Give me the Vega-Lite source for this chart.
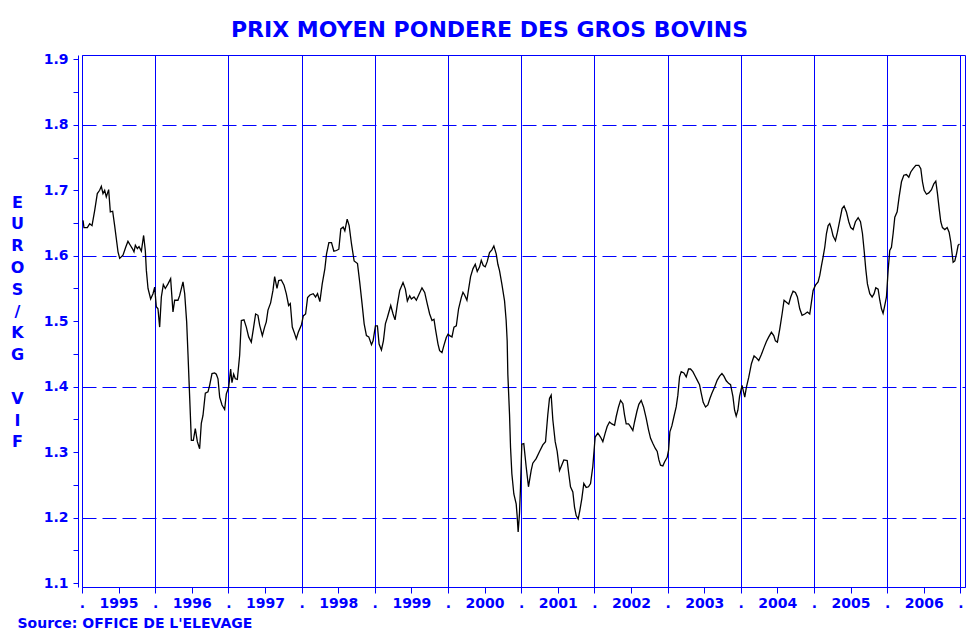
{
  "$schema": "https://vega.github.io/schema/vega-lite/v6.json",
  "width": 883,
  "height": 532,
  "autosize": {"type": "none"},
  "padding": {"left": 82, "top": 55, "right": 3, "bottom": 44},
  "background": "white",
  "config": {"view": {"stroke": "#0000FF", "strokeWidth": 1}},
  "title": {"text": "PRIX MOYEN PONDERE DES GROS BOVINS", "font": "DejaVu Sans", "fontSize": 22, "fontWeight": "bold", "color": "#0000FF", "anchor": "middle", "offset": 10, "dx": -34},
  "data": {"values": [
    {"t":1995.014,"v":1.654},{"t":1995.027,"v":1.643},{"t":1995.073,"v":1.643},{"t":1995.105,"v":1.649},{"t":1995.137,"v":1.646},{"t":1995.173,"v":1.669},{"t":1995.209,"v":1.695},{"t":1995.241,"v":1.700},{"t":1995.264,"v":1.706},{"t":1995.287,"v":1.695},{"t":1995.310,"v":1.700},{"t":1995.332,"v":1.690},{"t":1995.364,"v":1.701},{"t":1995.387,"v":1.667},{"t":1995.419,"v":1.668},{"t":1995.446,"v":1.646},{"t":1995.469,"v":1.626},{"t":1995.492,"v":1.606},{"t":1995.515,"v":1.596},{"t":1995.560,"v":1.601},{"t":1995.597,"v":1.613},{"t":1995.628,"v":1.622},{"t":1995.660,"v":1.616},{"t":1995.688,"v":1.611},{"t":1995.710,"v":1.606},{"t":1995.729,"v":1.616},{"t":1995.756,"v":1.611},{"t":1995.779,"v":1.614},{"t":1995.811,"v":1.607},{"t":1995.842,"v":1.631},{"t":1995.865,"v":1.608},{"t":1995.879,"v":1.578},{"t":1995.902,"v":1.550},{"t":1995.938,"v":1.534},{"t":1995.970,"v":1.542},{"t":1995.993,"v":1.552},{"t":1996.015,"v":1.522},{"t":1996.038,"v":1.519},{"t":1996.061,"v":1.491},{"t":1996.084,"v":1.537},{"t":1996.111,"v":1.556},{"t":1996.138,"v":1.550},{"t":1996.175,"v":1.557},{"t":1996.211,"v":1.565},{"t":1996.243,"v":1.514},{"t":1996.266,"v":1.532},{"t":1996.311,"v":1.532},{"t":1996.334,"v":1.539},{"t":1996.380,"v":1.560},{"t":1996.403,"v":1.542},{"t":1996.430,"v":1.499},{"t":1996.448,"v":1.450},{"t":1996.471,"v":1.384},{"t":1996.494,"v":1.318},{"t":1996.521,"v":1.318},{"t":1996.548,"v":1.336},{"t":1996.576,"v":1.316},{"t":1996.607,"v":1.305},{"t":1996.630,"v":1.344},{"t":1996.653,"v":1.356},{"t":1996.685,"v":1.390},{"t":1996.721,"v":1.392},{"t":1996.744,"v":1.402},{"t":1996.776,"v":1.420},{"t":1996.812,"v":1.421},{"t":1996.835,"v":1.419},{"t":1996.858,"v":1.412},{"t":1996.881,"v":1.384},{"t":1996.913,"v":1.372},{"t":1996.949,"v":1.365},{"t":1996.972,"v":1.389},{"t":1997.004,"v":1.399},{"t":1997.031,"v":1.427},{"t":1997.049,"v":1.406},{"t":1997.072,"v":1.419},{"t":1997.095,"v":1.412},{"t":1997.122,"v":1.411},{"t":1997.154,"v":1.448},{"t":1997.177,"v":1.501},{"t":1997.213,"v":1.502},{"t":1997.245,"v":1.491},{"t":1997.277,"v":1.476},{"t":1997.313,"v":1.468},{"t":1997.345,"v":1.491},{"t":1997.372,"v":1.511},{"t":1997.404,"v":1.509},{"t":1997.427,"v":1.494},{"t":1997.464,"v":1.478},{"t":1997.495,"v":1.491},{"t":1997.518,"v":1.499},{"t":1997.541,"v":1.517},{"t":1997.577,"v":1.528},{"t":1997.609,"v":1.547},{"t":1997.632,"v":1.568},{"t":1997.664,"v":1.550},{"t":1997.687,"v":1.562},{"t":1997.723,"v":1.563},{"t":1997.760,"v":1.555},{"t":1997.791,"v":1.542},{"t":1997.823,"v":1.524},{"t":1997.846,"v":1.527},{"t":1997.873,"v":1.491},{"t":1997.905,"v":1.481},{"t":1997.928,"v":1.473},{"t":1997.955,"v":1.483},
    {"t":1998.000,"v":1.495},{"t":1998.023,"v":1.508},{"t":1998.055,"v":1.511},{"t":1998.082,"v":1.536},{"t":1998.114,"v":1.540},{"t":1998.159,"v":1.542},{"t":1998.191,"v":1.537},{"t":1998.218,"v":1.542},{"t":1998.250,"v":1.530},{"t":1998.282,"v":1.557},{"t":1998.318,"v":1.580},{"t":1998.341,"v":1.603},{"t":1998.373,"v":1.620},{"t":1998.409,"v":1.620},{"t":1998.441,"v":1.607},{"t":1998.477,"v":1.608},{"t":1998.509,"v":1.610},{"t":1998.536,"v":1.641},{"t":1998.568,"v":1.644},{"t":1998.591,"v":1.638},{"t":1998.623,"v":1.656},{"t":1998.650,"v":1.646},{"t":1998.682,"v":1.618},{"t":1998.718,"v":1.592},{"t":1998.764,"v":1.588},{"t":1998.795,"v":1.559},{"t":1998.827,"v":1.526},{"t":1998.855,"v":1.496},{"t":1998.886,"v":1.478},{"t":1998.918,"v":1.476},{"t":1998.955,"v":1.464},{"t":1998.977,"v":1.470},{"t":1999.009,"v":1.493},{"t":1999.036,"v":1.493},{"t":1999.059,"v":1.465},{"t":1999.091,"v":1.456},{"t":1999.118,"v":1.470},{"t":1999.145,"v":1.496},{"t":1999.173,"v":1.506},{"t":1999.218,"v":1.524},{"t":1999.250,"v":1.511},{"t":1999.277,"v":1.502},{"t":1999.309,"v":1.526},{"t":1999.341,"v":1.547},{"t":1999.386,"v":1.559},{"t":1999.418,"v":1.549},{"t":1999.445,"v":1.531},{"t":1999.477,"v":1.539},{"t":1999.500,"v":1.534},{"t":1999.536,"v":1.537},{"t":1999.568,"v":1.532},{"t":1999.600,"v":1.540},{"t":1999.645,"v":1.551},{"t":1999.682,"v":1.544},{"t":1999.718,"v":1.526},{"t":1999.750,"v":1.511},{"t":1999.782,"v":1.501},{"t":1999.809,"v":1.503},{"t":1999.832,"v":1.486},{"t":1999.864,"v":1.465},{"t":1999.886,"v":1.455},{"t":1999.918,"v":1.452},{"t":1999.945,"v":1.463},{"t":1999.977,"v":1.475},
    {"t":2000.000,"v":1.480},{"t":2000.023,"v":1.478},{"t":2000.055,"v":1.476},{"t":2000.082,"v":1.491},{"t":2000.114,"v":1.493},{"t":2000.145,"v":1.519},{"t":2000.182,"v":1.536},{"t":2000.205,"v":1.544},{"t":2000.227,"v":1.540},{"t":2000.259,"v":1.532},{"t":2000.282,"v":1.549},{"t":2000.309,"v":1.568},{"t":2000.341,"v":1.580},{"t":2000.373,"v":1.587},{"t":2000.400,"v":1.576},{"t":2000.432,"v":1.583},{"t":2000.455,"v":1.593},{"t":2000.482,"v":1.585},{"t":2000.509,"v":1.583},{"t":2000.536,"v":1.591},{"t":2000.568,"v":1.605},{"t":2000.600,"v":1.609},{"t":2000.627,"v":1.615},{"t":2000.659,"v":1.603},{"t":2000.682,"v":1.587},{"t":2000.705,"v":1.577},{"t":2000.736,"v":1.557},{"t":2000.773,"v":1.531},{"t":2000.795,"v":1.501},{"t":2000.809,"v":1.470},{"t":2000.818,"v":1.419},{"t":2000.841,"v":1.358},{"t":2000.855,"v":1.307},{"t":2000.873,"v":1.267},{"t":2000.900,"v":1.236},{"t":2000.932,"v":1.221},{"t":2000.945,"v":1.203},{"t":2000.959,"v":1.178},{"t":2000.977,"v":1.206},{"t":2000.991,"v":1.246},{"t":2001.009,"v":1.312},
    {"t":2001.036,"v":1.313},{"t":2001.068,"v":1.278},{"t":2001.100,"v":1.247},{"t":2001.137,"v":1.272},{"t":2001.159,"v":1.283},{"t":2001.205,"v":1.290},{"t":2001.251,"v":1.301},{"t":2001.296,"v":1.311},{"t":2001.333,"v":1.316},{"t":2001.364,"v":1.357},{"t":2001.387,"v":1.382},{"t":2001.410,"v":1.387},{"t":2001.433,"v":1.349},{"t":2001.465,"v":1.316},{"t":2001.492,"v":1.301},{"t":2001.524,"v":1.272},{"t":2001.547,"v":1.278},{"t":2001.583,"v":1.288},{"t":2001.629,"v":1.287},{"t":2001.647,"v":1.270},{"t":2001.674,"v":1.247},{"t":2001.706,"v":1.239},{"t":2001.729,"v":1.216},{"t":2001.752,"v":1.203},{"t":2001.779,"v":1.198},{"t":2001.802,"v":1.211},{"t":2001.829,"v":1.229},{"t":2001.856,"v":1.252},{"t":2001.888,"v":1.246},{"t":2001.920,"v":1.247},{"t":2001.948,"v":1.252},{"t":2001.979,"v":1.278},
    {"t":2002.011,"v":1.323},{"t":2002.048,"v":1.329},{"t":2002.084,"v":1.323},{"t":2002.116,"v":1.316},{"t":2002.148,"v":1.329},{"t":2002.175,"v":1.339},{"t":2002.207,"v":1.346},{"t":2002.239,"v":1.343},{"t":2002.276,"v":1.341},{"t":2002.298,"v":1.354},{"t":2002.330,"v":1.369},{"t":2002.358,"v":1.379},{"t":2002.390,"v":1.374},{"t":2002.412,"v":1.357},{"t":2002.435,"v":1.343},{"t":2002.467,"v":1.343},{"t":2002.494,"v":1.339},{"t":2002.526,"v":1.333},{"t":2002.549,"v":1.346},{"t":2002.581,"v":1.362},{"t":2002.608,"v":1.373},{"t":2002.640,"v":1.379},{"t":2002.672,"v":1.369},{"t":2002.708,"v":1.352},{"t":2002.740,"v":1.334},{"t":2002.768,"v":1.321},{"t":2002.800,"v":1.313},{"t":2002.831,"v":1.306},{"t":2002.859,"v":1.301},{"t":2002.882,"v":1.288},{"t":2002.904,"v":1.280},{"t":2002.936,"v":1.279},{"t":2002.959,"v":1.285},{"t":2002.995,"v":1.292},
    {"t":2003.014,"v":1.303},{"t":2003.032,"v":1.331},{"t":2003.059,"v":1.340},{"t":2003.087,"v":1.354},{"t":2003.118,"v":1.369},{"t":2003.141,"v":1.387},{"t":2003.164,"v":1.415},{"t":2003.187,"v":1.423},{"t":2003.223,"v":1.421},{"t":2003.255,"v":1.415},{"t":2003.287,"v":1.427},{"t":2003.314,"v":1.427},{"t":2003.346,"v":1.423},{"t":2003.378,"v":1.416},{"t":2003.405,"v":1.410},{"t":2003.437,"v":1.403},{"t":2003.460,"v":1.390},{"t":2003.487,"v":1.376},{"t":2003.519,"v":1.369},{"t":2003.551,"v":1.372},{"t":2003.579,"v":1.382},{"t":2003.606,"v":1.390},{"t":2003.642,"v":1.399},{"t":2003.679,"v":1.410},{"t":2003.711,"v":1.416},{"t":2003.743,"v":1.420},{"t":2003.770,"v":1.416},{"t":2003.802,"v":1.409},{"t":2003.834,"v":1.405},{"t":2003.861,"v":1.403},{"t":2003.893,"v":1.385},{"t":2003.916,"v":1.364},{"t":2003.938,"v":1.355},{"t":2003.961,"v":1.364},{"t":2003.984,"v":1.385},
    {"t":2004.018,"v":1.402},{"t":2004.055,"v":1.384},{"t":2004.077,"v":1.399},{"t":2004.109,"v":1.414},{"t":2004.146,"v":1.435},{"t":2004.182,"v":1.447},{"t":2004.214,"v":1.444},{"t":2004.246,"v":1.440},{"t":2004.282,"v":1.449},{"t":2004.319,"v":1.460},{"t":2004.351,"v":1.469},{"t":2004.383,"v":1.476},{"t":2004.419,"v":1.483},{"t":2004.451,"v":1.478},{"t":2004.474,"v":1.470},{"t":2004.501,"v":1.468},{"t":2004.533,"v":1.488},{"t":2004.565,"v":1.511},{"t":2004.592,"v":1.532},{"t":2004.624,"v":1.529},{"t":2004.656,"v":1.526},{"t":2004.683,"v":1.537},{"t":2004.715,"v":1.546},{"t":2004.747,"v":1.544},{"t":2004.774,"v":1.537},{"t":2004.806,"v":1.519},{"t":2004.838,"v":1.509},{"t":2004.875,"v":1.511},{"t":2004.911,"v":1.514},{"t":2004.943,"v":1.511},{"t":2004.966,"v":1.529},{"t":2004.989,"v":1.547},
    {"t":2005.021,"v":1.555},{"t":2005.057,"v":1.560},{"t":2005.080,"v":1.570},{"t":2005.103,"v":1.585},{"t":2005.125,"v":1.598},{"t":2005.148,"v":1.613},{"t":2005.171,"v":1.634},{"t":2005.194,"v":1.646},{"t":2005.216,"v":1.649},{"t":2005.239,"v":1.641},{"t":2005.262,"v":1.630},{"t":2005.294,"v":1.623},{"t":2005.321,"v":1.636},{"t":2005.353,"v":1.654},{"t":2005.385,"v":1.672},{"t":2005.412,"v":1.676},{"t":2005.444,"v":1.667},{"t":2005.476,"v":1.652},{"t":2005.503,"v":1.643},{"t":2005.535,"v":1.640},{"t":2005.567,"v":1.652},{"t":2005.604,"v":1.658},{"t":2005.636,"v":1.652},{"t":2005.663,"v":1.634},{"t":2005.686,"v":1.608},{"t":2005.708,"v":1.580},{"t":2005.731,"v":1.557},{"t":2005.763,"v":1.542},{"t":2005.795,"v":1.537},{"t":2005.822,"v":1.542},{"t":2005.845,"v":1.551},{"t":2005.877,"v":1.549},{"t":2005.900,"v":1.532},{"t":2005.923,"v":1.519},{"t":2005.945,"v":1.512},{"t":2005.968,"v":1.524},{"t":2005.991,"v":1.537},
    {"t":2006.014,"v":1.578},{"t":2006.036,"v":1.608},{"t":2006.059,"v":1.613},{"t":2006.082,"v":1.634},{"t":2006.105,"v":1.659},{"t":2006.137,"v":1.667},{"t":2006.164,"v":1.690},{"t":2006.196,"v":1.713},{"t":2006.228,"v":1.723},{"t":2006.264,"v":1.724},{"t":2006.296,"v":1.720},{"t":2006.323,"v":1.728},{"t":2006.355,"v":1.733},{"t":2006.392,"v":1.738},{"t":2006.433,"v":1.738},{"t":2006.460,"v":1.733},{"t":2006.483,"v":1.713},{"t":2006.506,"v":1.700},{"t":2006.538,"v":1.694},{"t":2006.569,"v":1.696},{"t":2006.606,"v":1.701},{"t":2006.638,"v":1.710},{"t":2006.665,"v":1.714},{"t":2006.688,"v":1.695},{"t":2006.711,"v":1.672},{"t":2006.733,"v":1.652},{"t":2006.756,"v":1.643},{"t":2006.788,"v":1.640},{"t":2006.820,"v":1.643},{"t":2006.847,"v":1.636},{"t":2006.870,"v":1.621},{"t":2006.888,"v":1.603},{"t":2006.902,"v":1.590},{"t":2006.925,"v":1.592},{"t":2006.948,"v":1.603},{"t":2006.970,"v":1.616},{"t":2006.989,"v":1.618}
  ]},
  "mark": {"type": "line", "color": "black", "strokeWidth": 1.3, "clip": true},
  "encoding": {
    "x": {
      "field": "t", "type": "quantitative",
      "scale": {"domain": [1995, 2007.064], "nice": false, "zero": false},
      "axis": {
        "values": [1995,1995.5,1996,1996.5,1997,1997.5,1998,1998.5,1999,1999.5,2000,2000.5,2001,2001.5,2002,2002.5,2003,2003.5,2004,2004.5,2005,2005.5,2006,2006.5,2007],
        "labelExpr": "datum.value % 1 == 0 ? '.' : toString(floor(datum.value))",
        "grid": true, "gridColor": "#0000FF", "gridWidth": 1,
        "gridOpacity": {"condition": {"test": "datum.value % 1 == 0", "value": 1}, "value": 0},
        "domainColor": "#0000FF", "tickColor": "#0000FF", "tickSize": 6,
        "labelColor": "#0000FF", "labelFont": "DejaVu Sans", "labelFontWeight": "bold", "labelFontSize": 14, "labelPadding": 3,
        "labelOverlap": false, "labelFlush": false, "labelBound": false,
        "title": "Source: OFFICE DE L'ELEVAGE", "titleAnchor": "start", "titleAlign": "left", "titleX": -65, "titleY": 40, "titleBaseline": "alphabetic",
        "titleFont": "DejaVu Sans", "titleFontSize": 14, "titleFontWeight": "bold", "titleColor": "#0000FF"
      }
    },
    "y": {
      "field": "v", "type": "quantitative",
      "scale": {"domain": [1.0939, 1.9067], "nice": false, "zero": false},
      "axis": {
        "values": [1.1,1.15,1.2,1.25,1.3,1.35,1.4,1.45,1.5,1.55,1.6,1.65,1.7,1.75,1.8,1.85,1.9],
        "labelExpr": "abs(datum.value*10 - round(datum.value*10)) < 0.001 ? format(datum.value, '.1f') : ''",
        "offset": 4,
        "grid": true, "gridColor": "#0000FF", "gridWidth": 1, "gridDash": [14, 6],
        "gridOpacity": {"condition": {"test": "abs(datum.value*10 - round(datum.value*10)) < 0.001 && round(datum.value*10) % 2 == 0", "value": 1}, "value": 0},
        "domainColor": "#0000FF", "tickColor": "#0000FF", "tickSize": 5,
        "labelColor": "#0000FF", "labelFont": "DejaVu Sans", "labelFontWeight": "bold", "labelFontSize": 14, "labelPadding": 5,
        "labelOverlap": false, "labelFlush": false, "labelBound": false,
        "title": ["E","U","R","O","S","/","K","G","\u2800","V","I","F"],
        "titleAngle": 0, "titleX": -61, "titleY": 139, "titleBaseline": "top", "titleAlign": "center", "titleLineHeight": 21.8,
        "titleFont": "DejaVu Sans", "titleFontSize": 16, "titleFontWeight": "bold", "titleColor": "#0000FF"
      }
    }
  }
}
